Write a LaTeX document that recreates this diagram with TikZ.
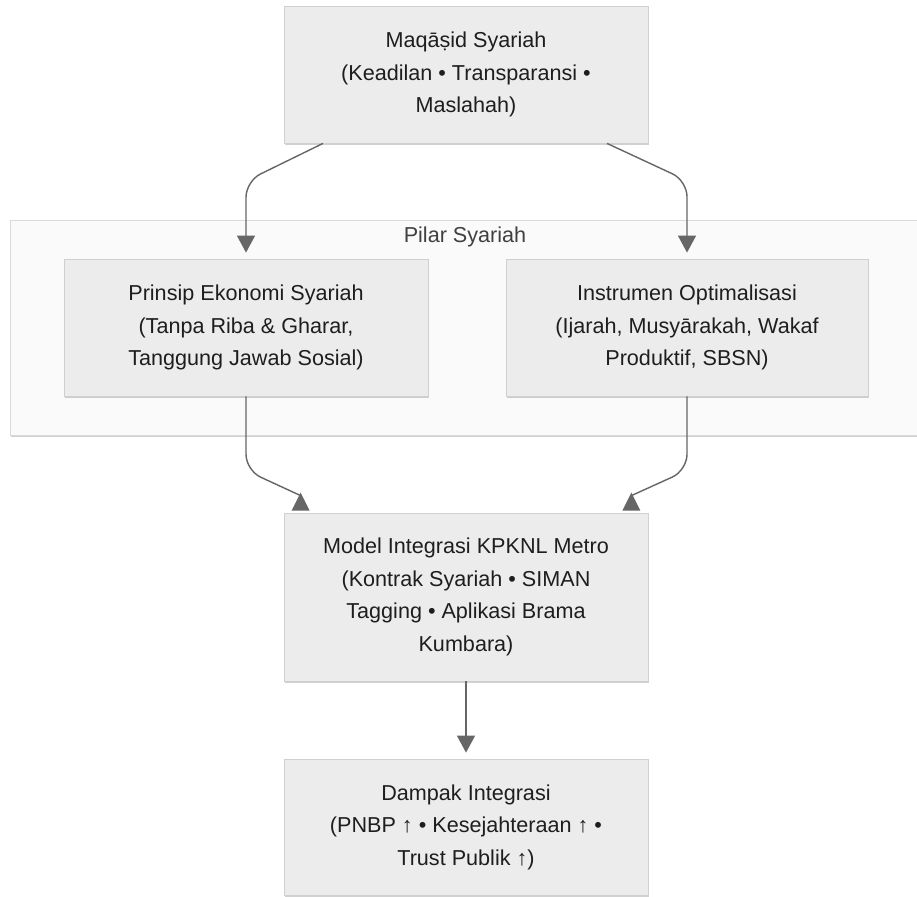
\documentclass[tikz,border=0pt]{standalone}
\usepackage{fontspec}
\setmainfont{Liberation Sans}
\usetikzlibrary{arrows.meta,shadows,calc}
\definecolor{boxfill}{HTML}{ECECEC}
\definecolor{boxline}{HTML}{D0D0D0}
\definecolor{grpfill}{HTML}{FAFAFA}
\definecolor{grpline}{HTML}{DADADA}
\definecolor{conncol}{HTML}{666666}
\definecolor{txtcol}{HTML}{1E1E1E}
\begin{document}
\begin{tikzpicture}[x=1pt,y=-1pt,
  every node/.style={font=\fontsize{21.6pt}{32.4pt}\selectfont, text=txtcol},
  shad/.style={drop shadow={shadow xshift=1.2pt, shadow yshift=-2pt, opacity=.18, fill=black}},
  box/.style={draw=boxline, fill=boxfill, line width=0.8pt, inner sep=0pt, align=center, shad},
  grp/.style={draw=grpline, fill=grpfill, line width=1pt, inner sep=0pt, shad},
  conn/.style={draw=conncol, line width=1.4pt, rounded corners=16pt},
  tip/.style={-{Triangle[width=18pt,length=17pt]}},
  headfill/.style={fill=conncol}
]
\useasboundingbox (0,0) rectangle (917,896);
\clip (0,0) rectangle (917,896);
\fill[white] (0,0) rectangle (917,896);

% group container
\node[grp, minimum width=920pt, minimum height=215pt] (pilar) at (470,327.5) {};
\node[text=txtcol!85] (pilarlbl) at (465,237) {Pilar Syariah};

% boxes
\node[box, minimum width=364pt, minimum height=137pt] (top) at (466,74.5)
  {Maqāṣid Syariah\\(Keadilan • Transparansi •\\Maslahah)};
\node[box, minimum width=364pt, minimum height=137pt] (left) at (246,327.5)
  {Prinsip Ekonomi Syariah\\(Tanpa Riba \& Gharar,\\Tanggung Jawab Sosial)};
\node[box, minimum width=362pt, minimum height=137pt] (right) at (687,327.5)
  {Instrumen Optimalisasi\\(Ijarah, Musyārakah, Wakaf\\Produktif, SBSN)};
\node[box, minimum width=364pt, minimum height=168pt] (mid) at (466,597)
  {Model Integrasi KPKNL Metro\\(Kontrak Syariah • SIMAN\\Tagging • Aplikasi Brama\\Kumbara)};
\node[box, minimum width=364pt, minimum height=136pt] (bot) at (466,827)
  {Dampak Integrasi\\(PNBP ↑ • Kesejahteraan ↑ •\\Trust Publik ↑)};

% connectors top -> pillars
\draw[conn, tip] ([xshift=-143pt]top.south) -- ($(left.north)+(0,-77.5)$) -- ([yshift=6pt]left.north);
\draw[conn, tip] ([xshift=141pt]top.south) -- ($(right.north)+(0,-78)$) -- ([yshift=6pt]right.north);

% connectors pillars -> model
\coordinate (la) at ($(mid.north west)+(17,-20)$);
\coordinate (ra) at ($(mid.north east)+(-17,-20)$);
\draw[conn] (left.south) -- ++(0,74) -- ($(la)+(0,3)$);
\draw[conn] (right.south) -- ++(0,74) -- ($(ra)+(0,3)$);
\fill[headfill] (la) -- ++(-9,18) -- ++(18,0) -- cycle;
\fill[headfill] (ra) -- ++(-9,18) -- ++(18,0) -- cycle;

% model -> impact
\draw[conn, tip] (mid.south) -- ([yshift=6pt]bot.north);
\end{tikzpicture}
\end{document}
